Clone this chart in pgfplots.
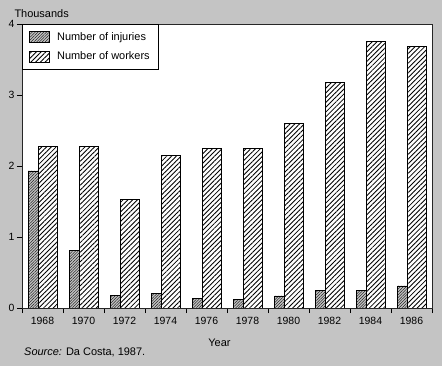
\documentclass[border=0pt]{standalone}
\usepackage{fontspec}
\setmainfont{Liberation Sans}
\usepackage{pgfplots}
\usepackage{pgfplotstable}
\pgfplotsset{compat=1.18}
\usetikzlibrary{patterns,patterns.meta}

\pgfplotstableread{
idx year injuries workers
0 1968 1.93 2.28
1 1970 0.81 2.28
2 1972 0.18 1.53
3 1974 0.20 2.15
4 1976 0.13 2.25
5 1978 0.12 2.25
6 1980 0.17 2.60
7 1982 0.25 3.18
8 1984 0.25 3.75
9 1986 0.31 3.69
}\data

\begin{document}
\begin{tikzpicture}
\fill[black!23] (-22bp,-58bp) rectangle (420bp,308bp);
\useasboundingbox (-22bp,-58bp) rectangle (420bp,308bp);
\begin{axis}[
  at={(0,0)}, anchor=south west,
  scale only axis, width=410bp, height=284bp,
  xmin=-0.5, xmax=9.5, ymin=0, ymax=4,
  axis background/.style={fill=white},
  axis line style={line width=0.9bp, black!85},
  xtick={-0.5,0.5,...,9.5},
  x tick label as interval,
  xticklabels={1968,1970,1972,1974,1976,1978,1980,1982,1984,1986},
  ytick={0,1,2,3,4},
  xtick pos=left, ytick pos=left,
  tick align=outside,
  major tick length=5bp,
  tick style={black, line width=0.8bp},
  /pgf/number format/assume math mode=true,
  ticklabel style={font=\fontsize{10.5}{12}\selectfont},
  xticklabel style={yshift=-1bp},
  yticklabel style={xshift=1bp},
  legend style={at={(0,1)}, anchor=north west, draw=black, line width=0.8bp, fill=white,
    inner xsep=7bp, inner ysep=6bp, row sep=6bp,
    font=\fontsize{11}{13}\selectfont,
    /tikz/every odd column/.append style={column sep=5bp}},
  legend cell align=left,
  legend image code/.code={\draw[#1] (0bp,-5.5bp) rectangle (20bp,5.5bp);},
]
\addplot[ybar, bar width=0.25, bar shift=-0.22, draw=black, line width=0.7bp,
  fill=black!25, postaction={pattern={Lines[angle=45,distance=2pt,line width=0.35pt]}}]
  table[x=idx, y=injuries] {\data};
\addlegendentry{Number of injuries}
\addplot[ybar, bar width=0.46, bar shift=0.135, draw=black, line width=0.7bp,
  fill=white, postaction={pattern={Lines[angle=45,distance=3.4pt,line width=0.85pt]}}]
  table[x=idx, y=workers] {\data};
\addlegendentry{Number of workers}
\end{axis}
\node[anchor=base west, font=\fontsize{11}{13}\selectfont] at (-11bp,290.5bp) {Thousands};
\node[anchor=base, font=\fontsize{11}{13}\selectfont] at (197.5bp,-38.7bp) {Year};
\node[anchor=base west, font=\fontsize{11}{13}\selectfont] at (-1.3bp,-47.7bp) {\textit{Source:} Da Costa, 1987.};
\end{tikzpicture}
\end{document}
